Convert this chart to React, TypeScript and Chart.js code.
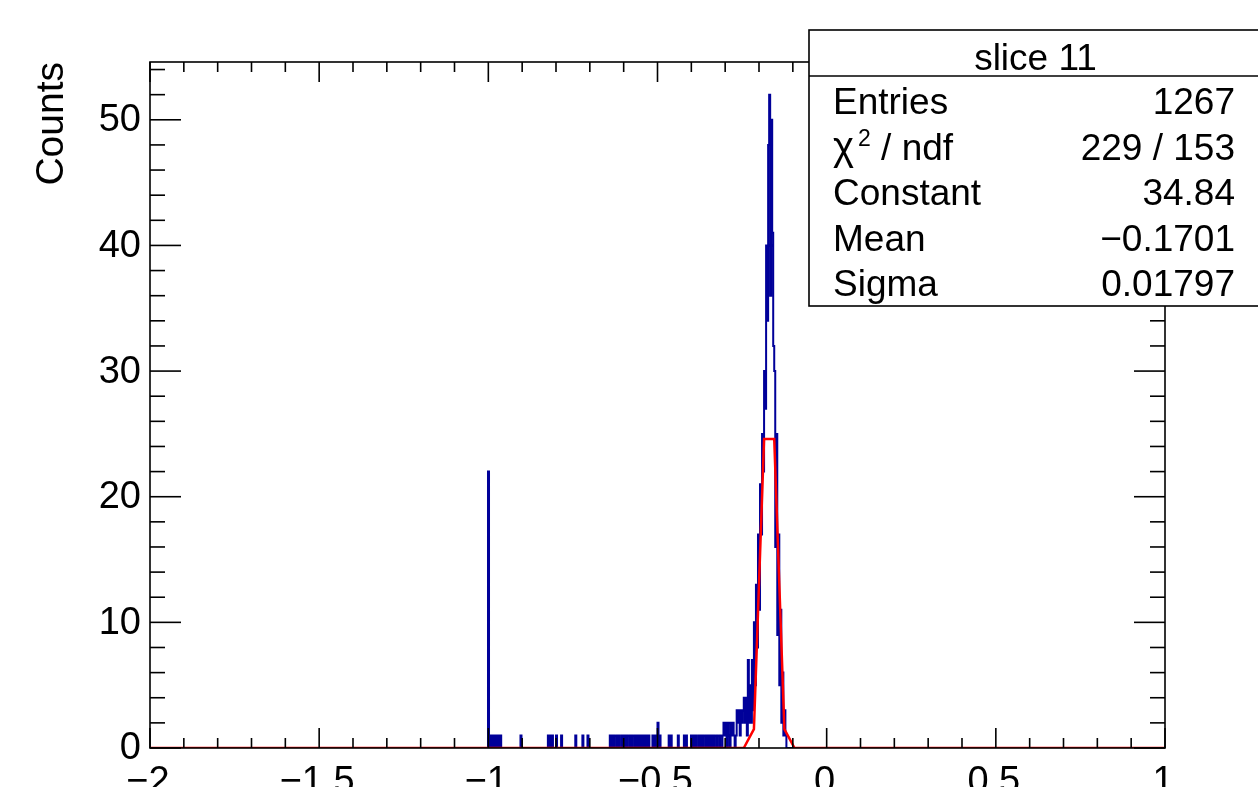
import React, { useEffect, useRef } from 'react';
import { Chart, registerables } from 'chart.js';

Chart.register(...registerables);

// ---- data ----
const X_MIN = -2;
const X_MAX = 1;
const Y_MAX = 54.6;
const BIN_WIDTH = 0.003;

// isolated low-count bins (bin position, count)
const tailX = [
  -1.0, -0.995, -0.989, -0.983, -0.977, -0.971, -0.965, -0.903, -0.824, -0.818, -0.812, -0.8, -0.785,
  -0.741, -0.72, -0.705, -0.64, -0.634, -0.628, -0.62, -0.614, -0.605, -0.599, -0.593, -0.584, -0.578,
  -0.569, -0.563, -0.557, -0.551, -0.543, -0.537, -0.531, -0.525, -0.513, -0.507, -0.498, -0.492,
  -0.466, -0.46, -0.439, -0.422, -0.416, -0.401, -0.395, -0.389, -0.38, -0.374, -0.368, -0.359,
  -0.353, -0.347, -0.341, -0.335, -0.324, -0.315,
];
const tailCounts = [
  22, 1, 1, 1, 1, 1, 1, 1, 1, 1, 1, 1, 1,
  1, 1, 1, 1, 1, 1, 1, 1, 1, 1, 1, 1, 1,
  1, 1, 1, 1, 1, 1, 1, 1, 1, 1, 2, 1,
  1, 1, 1, 1, 1, 1, 1, 1, 1, 1, 1, 1,
  1, 1, 1, 1, 1, 1,
];

// contiguous bins of the peak, starting at peakStart
const peakStart = -0.308;
const peakCounts = [
  1, 2, 1, 2, 0, 2, 1, 0, 2, 1, 2, 1, 0, 1,
  3, 2, 3, 1, 3, 2, 3, 4, 2, 4, 1, 7, 2, 5, 2, 7, 3, 10, 5, 13, 8, 17, 11, 21, 17, 25, 22, 30, 27,
  40, 34, 48, 52, 36, 50, 41, 32, 30, 16, 25, 9, 17, 5, 11, 2, 6, 1, 3, 1,
];

// gaussian fit polyline as drawn
const fitX = [-2, -0.245, -0.215, -0.185, -0.155, -0.125, -0.095, 1];
const fitY = [0, 0, 1.5, 24.6, 24.6, 1.5, 0, 0];

const xTickValues = [-2, -1.5, -1, -0.5, 0, 0.5, 1];
const xTickLabels = ['\u22122', '\u22121.5', '\u22121', '\u22120.5', '0', '0.5', '1'];
const yTickValues = [0, 10, 20, 30, 40, 50];
const yTickLabels = ['0', '10', '20', '30', '40', '50'];
const yTitle = 'Counts';

const statsTitle = 'slice 11';
const statsLabels = ['Entries', '\u03c72 / ndf', 'Constant', 'Mean', 'Sigma'];
const statsValues = ['1267', '229 / 153', '34.84', '\u22120.1701', '0.01797'];

const FONT = '"Liberation Sans", Arial, Helvetica, sans-serif';

function buildHistogram() {
  const nBins = Math.round((X_MAX - X_MIN) / BIN_WIDTH);
  const counts: number[] = new Array(nBins).fill(0);
  tailX.forEach((x, i) => {
    const k = Math.floor((x - X_MIN) / BIN_WIDTH + 1e-6);
    if (k >= 0 && k < nBins) counts[k] = tailCounts[i];
  });
  const k0 = Math.round((peakStart - X_MIN) / BIN_WIDTH);
  peakCounts.forEach((c, i) => {
    if (k0 + i < nBins) counts[k0 + i] = c;
  });
  const pts: { x: number; y: number }[] = [];
  for (let k = 0; k < nBins; k++) {
    const x0 = X_MIN + k * BIN_WIDTH;
    const x1 = X_MIN + (k + 1) * BIN_WIDTH;
    pts.push({ x: x0, y: counts[k] });
    pts.push({ x: x1, y: counts[k] });
  }
  return pts;
}

const rootPlugin = {
  id: 'rootDecor',
  afterDraw(chart: any) {
    const { ctx, chartArea: a } = chart;
    const xs = chart.scales.x;
    const ys = chart.scales.y;
    ctx.save();
    ctx.strokeStyle = '#000';
    ctx.fillStyle = '#000';
    ctx.lineWidth = 1.6;
    const line = (x1: number, y1: number, x2: number, y2: number) => {
      ctx.beginPath();
      ctx.moveTo(x1, y1);
      ctx.lineTo(x2, y2);
      ctx.stroke();
    };
    // frame
    ctx.strokeRect(a.left, a.top, a.right - a.left, a.bottom - a.top);
    // x ticks (inside, bottom and top)
    for (let i = 0; i <= 30; i++) {
      const v = X_MIN + i * 0.1;
      const px = xs.getPixelForValue(v);
      const len = i % 5 === 0 ? 20 : 10;
      line(px, a.bottom, px, a.bottom - len);
      line(px, a.top, px, a.top + len);
    }
    // y ticks (inside, left and right)
    for (let i = 0; i * 2 <= Y_MAX; i++) {
      const v = i * 2;
      const py = ys.getPixelForValue(v);
      const len = i % 5 === 0 ? 31 : 15;
      line(a.left, py, a.left + len, py);
      line(a.right, py, a.right - len, py);
    }
    // tick labels
    ctx.font = `38px ${FONT}`;
    ctx.textAlign = 'right';
    ctx.textBaseline = 'middle';
    yTickValues.forEach((v, i) => {
      ctx.fillText(yTickLabels[i], a.left - 9, ys.getPixelForValue(v) + 1);
    });
    ctx.textAlign = 'center';
    ctx.textBaseline = 'alphabetic';
    xTickValues.forEach((v, i) => {
      ctx.fillText(xTickLabels[i], xs.getPixelForValue(v) - 2, 793);
    });
    // y title
    ctx.save();
    ctx.font = `39px ${FONT}`;
    ctx.translate(63, a.top);
    ctx.rotate(-Math.PI / 2);
    ctx.textAlign = 'right';
    ctx.textBaseline = 'alphabetic';
    ctx.fillText(yTitle, 0, 0);
    ctx.restore();

    // stats box
    const bx = 809, by = 30, bw = 1262 - 809, bh = 306 - 30;
    ctx.fillStyle = '#fff';
    ctx.fillRect(bx, by, bw, bh);
    ctx.lineWidth = 1.6;
    ctx.strokeRect(bx, by, bw, bh);
    line(bx, 76, bx + bw, 76);
    ctx.fillStyle = '#000';
    ctx.font = `37px ${FONT}`;
    ctx.textAlign = 'center';
    ctx.fillText(statsTitle, bx + bw / 2, 70);
    statsLabels.forEach((lab, i) => {
      const base = 114 + i * 45.5;
      ctx.font = `37px ${FONT}`;
      ctx.textAlign = 'left';
      if (lab.startsWith('\u03c7')) {
        const chi = '\u03c7';
        ctx.font = `40px ${FONT}`;
        ctx.fillText(chi, 833, base);
        const wChi = ctx.measureText(chi).width;
        ctx.font = `23px ${FONT}`;
        const sup = lab.charAt(1);
        ctx.fillText(sup, 833 + wChi + 4, base - 14);
        const wSup = ctx.measureText(sup).width;
        ctx.font = `37px ${FONT}`;
        ctx.fillText(lab.slice(2), 833 + wChi + 4 + wSup, base);
      } else {
        ctx.fillText(lab, 833, base);
      }
      ctx.textAlign = 'right';
      ctx.fillText(statsValues[i], 1235, base);
    });
    ctx.restore();
  },
};

export default function App() {
  const canvasRef = useRef<HTMLCanvasElement | null>(null);

  useEffect(() => {
    if (!canvasRef.current) return;
    const histPoints = buildHistogram();
    const chart = new Chart(canvasRef.current, {
      type: 'line',
      data: {
        datasets: [
          {
            label: 'fit',
            data: fitX.map((x, i) => ({ x, y: fitY[i] })),
            borderColor: '#ff0000',
            borderWidth: 2.5,
            pointRadius: 0,
            tension: 0,
            fill: false,
            order: 0,
          },
          {
            label: 'histogram',
            data: histPoints,
            borderColor: '#000099',
            borderWidth: 2,
            pointRadius: 0,
            tension: 0,
            fill: false,
            order: 1,
          },
        ],
      },
      options: {
        animation: false,
        responsive: false,
        events: [],
        layout: { padding: { left: 150, right: 93, top: 62, bottom: 39 } },
        plugins: { legend: { display: false }, tooltip: { enabled: false } },
        scales: {
          x: { type: 'linear', min: X_MIN, max: X_MAX, display: false },
          y: { type: 'linear', min: 0, max: Y_MAX, display: false },
        },
      },
      plugins: [rootPlugin],
    } as any);
    return () => chart.destroy();
  }, []);

  return (
    <div style={{ position: 'fixed', left: 0, top: 0, width: 1258, height: 787, background: '#fff' }}>
      <canvas ref={canvasRef} width={1258} height={787} style={{ display: 'block' }} />
    </div>
  );
}
